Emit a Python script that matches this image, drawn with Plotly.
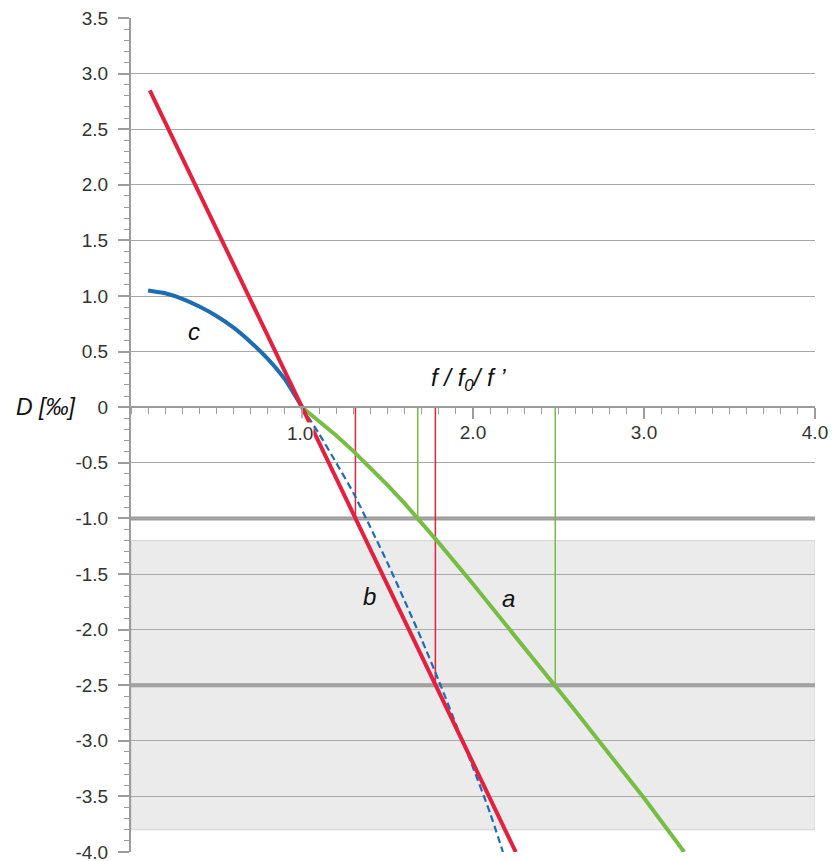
import plotly.graph_objects as go

# ---- data ----
# curve b (straight, red)
b_x = [0.11, 2.25]
b_y = [2.85, -4.0]

# curve c (blue, solid part)
c_x = [0.10, 0.2, 0.3, 0.4, 0.5, 0.6, 0.7, 0.8, 0.9, 1.0]
c_y = [1.05, 1.025, 0.975, 0.905, 0.82, 0.715, 0.585, 0.435, 0.25, 0.0]

# curve c continued (blue, dashed)
cd_x = [1.0, 1.1, 1.2, 1.3, 1.4, 1.5, 1.6, 1.7, 1.8, 1.9, 2.0, 2.1, 2.175]
cd_y = [0.0, -0.24, -0.50, -0.77, -1.08, -1.40, -1.74, -2.09, -2.46, -2.85, -3.24, -3.65, -4.0]

# curve a (green)
a_x = [1.0, 1.1, 1.2, 1.3, 1.4, 1.5, 1.6, 1.7, 1.8, 2.0, 2.2, 2.4, 2.6, 2.8, 3.0, 3.235]
a_y = [0.0, -0.125, -0.255, -0.395, -0.545, -0.70, -0.865, -1.04, -1.22, -1.59, -1.97,
       -2.35, -2.735, -3.125, -3.515, -4.0]

# drop lines from the axis to the limit lines
red_drop_x = [1.3125, 1.78]
red_drop_y = [-1.0, -2.5]
green_drop_x = [1.677, 2.481]
green_drop_y = [-1.0, -2.5]

# limit lines and shaded band
limit_y = [-1.0, -2.5]
band_y = [-3.8, -1.2]

# ticks
x_tickvals = [2.0, 3.0, 4.0]
x_ticktext = ["2.0", "3.0", "4.0"]
x_boxed_label = (1.0, "1.0")
y_tickvals = [3.5, 3.0, 2.5, 2.0, 1.5, 1.0, 0.5, 0.0, -0.5, -1.0, -1.5, -2.0, -2.5, -3.0, -3.5, -4.0]
y_ticktext = ["3.5", "3.0", "2.5", "2.0", "1.5", "1.0", "0.5", "0", "-0.5", "-1.0",
              "-1.5", "-2.0", "-2.5", "-3.0", "-3.5", "-4.0"]

RED = "#e5203f"
GREEN = "#78bd43"
BLUE = "#1d6db4"
GRAY = "#9c9c9c"
FONT = "Liberation Sans"
TXT = "#333333"

fig = go.Figure()

for xv, yv in zip(red_drop_x, red_drop_y):
    fig.add_trace(go.Scatter(x=[xv, xv], y=[0, yv], mode="lines",
                             line=dict(color=RED, width=1.5), hoverinfo="skip"))
for xv, yv in zip(green_drop_x, green_drop_y):
    fig.add_trace(go.Scatter(x=[xv, xv], y=[0, yv], mode="lines",
                             line=dict(color=GREEN, width=1.5), hoverinfo="skip"))

fig.add_trace(go.Scatter(x=a_x, y=a_y, mode="lines", line=dict(color=GREEN, width=4)))
fig.add_trace(go.Scatter(x=cd_x, y=cd_y, mode="lines",
                         line=dict(color=BLUE, width=2.2, dash="7px,4px", shape="spline", smoothing=0.6)))
fig.add_trace(go.Scatter(x=c_x, y=c_y, mode="lines",
                         line=dict(color=BLUE, width=4, shape="spline", smoothing=0.6)))
fig.add_trace(go.Scatter(x=b_x, y=b_y, mode="lines", line=dict(color=RED, width=4)))

shapes = [dict(type="rect", xref="x", yref="y", x0=0, x1=4, y0=band_y[0], y1=band_y[1],
               fillcolor="#ebebeb", line=dict(color="#d2d2d2", width=1), layer="below")]
for ly in limit_y:
    shapes.append(dict(type="line", xref="x", yref="y", x0=0, x1=4, y0=ly, y1=ly,
                       line=dict(color=GRAY, width=4), layer="below"))
# major tick mark under the boxed 1.0 label
shapes.append(dict(type="line", xref="x", yref="y", x0=x_boxed_label[0], x1=x_boxed_label[0],
                   y0=0, y1=-0.099, line=dict(color=GRAY, width=1.5), layer="above"))

annotations = [
    dict(x=0.368, y=0.683, text="<i>c</i>", showarrow=False, font=dict(family=FONT, size=24, color="#111")),
    dict(x=1.392, y=-1.70, text="<i>b</i>", showarrow=False, font=dict(family=FONT, size=24, color="#111")),
    dict(x=2.205, y=-1.72, text="<i>a</i>", showarrow=False, font=dict(family=FONT, size=24, color="#111")),
    dict(x=1.975, y=0.25, text="<i>f / f<sub>0</sub>/ f ’</i>", showarrow=False,
         font=dict(family=FONT, size=24, color="#111")),
    dict(xref="paper", x=-0.1257, xanchor="center", y=0.0, text="<i>D [‰]</i>", showarrow=False,
         font=dict(family=FONT, size=23, color="#111")),
    dict(x=x_boxed_label[0] - 0.012, y=-0.234, text=x_boxed_label[1], showarrow=False, bgcolor="white",
         font=dict(family=FONT, size=19, color=TXT), borderpad=0),
]

fig.update_layout(
    width=832, height=861,
    margin=dict(l=131, r=17, t=18, b=9),
    paper_bgcolor="white", plot_bgcolor="white",
    showlegend=False,
    shapes=shapes, annotations=annotations,
    font=dict(family=FONT, size=19, color=TXT),
    xaxis=dict(range=[0, 4], anchor="free", position=4.0 / 7.5, side="bottom",
               showline=True, linecolor=GRAY, linewidth=1.5,
               ticks="outside", ticklen=11, tickwidth=1.5, tickcolor=GRAY,
               tickvals=x_tickvals, ticktext=x_ticktext, ticklabelstandoff=-3,
               ticklabeloverflow="allow",
               minor=dict(dtick=0.1, tick0=0, ticks="outside", ticklen=6, tickwidth=1.2, tickcolor=GRAY),
               showgrid=False, zeroline=False, automargin=False,
               tickfont=dict(family=FONT, size=19, color=TXT)),
    yaxis=dict(range=[-4, 3.5], showline=True, linecolor=GRAY, linewidth=2,
               ticks="outside", ticklen=11, tickwidth=1.5, tickcolor=GRAY,
               tickvals=y_tickvals, ticktext=y_ticktext, ticklabelstandoff=6,
               ticklabeloverflow="allow",
               minor=dict(dtick=0.1, tick0=0, ticks="outside", ticklen=5, tickwidth=1.2, tickcolor=GRAY),
               showgrid=True, gridcolor="#a8a8a8", gridwidth=1.3,
               zeroline=False, automargin=False,
               tickfont=dict(family=FONT, size=19, color=TXT)),
)

fig.write_html("out.html", config={"displayModeBar": False},
               post_script="document.body.style.margin='0';document.body.style.overflow='hidden';")
